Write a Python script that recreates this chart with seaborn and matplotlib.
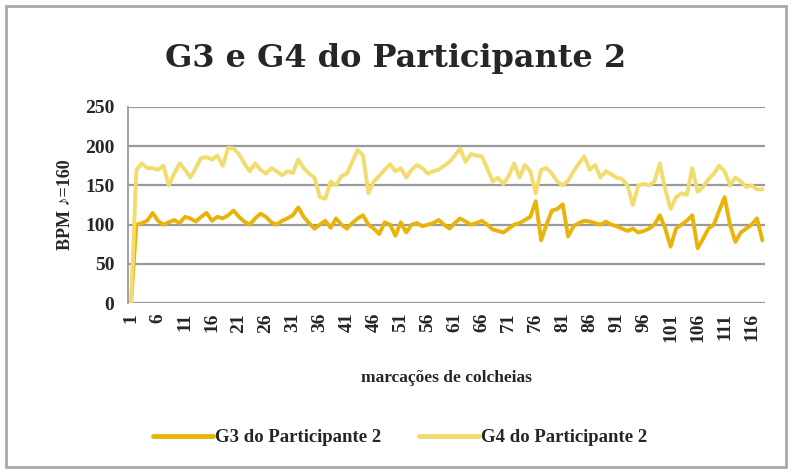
import numpy as np
import pandas as pd
import matplotlib.pyplot as plt
import seaborn as sns
from matplotlib.patches import Rectangle
from matplotlib.lines import Line2D

# valores (BPM por marcação de colcheia)
g3 = [0, 100, 102, 105, 115, 105, 100, 103, 106, 102,
      110, 108, 104, 110, 115, 105, 110, 108, 112, 118,
      110, 104, 100, 108, 114, 110, 103, 100, 105, 108,
      112, 122, 110, 102, 95, 100, 105, 96, 108, 100,
      95, 102, 108, 112, 100, 95, 88, 103, 100, 86,
      103, 90, 100, 102, 98, 100, 102, 106, 100, 95,
      102, 108, 104, 100, 102, 105, 100, 94, 92, 90,
      95, 100, 102, 106, 110, 130, 80, 100, 118, 120,
      126, 85, 98, 102, 105, 104, 102, 100, 104, 100,
      98, 95, 92, 95, 90, 92, 95, 100, 112, 95,
      72, 95, 100, 105, 112, 70, 82, 95, 100, 118,
      135, 100, 78, 90, 95, 100, 108, 80]
g4 = [0, 170, 178, 172, 172, 170, 175, 150, 165, 178,
      170, 160, 172, 185, 186, 183, 188, 175, 198, 197,
      190, 178, 168, 178, 170, 165, 172, 168, 163, 168,
      166, 183, 172, 165, 160, 135, 133, 155, 150, 162,
      165, 180, 195, 188, 140, 155, 162, 170, 177, 168,
      172, 160, 170, 176, 172, 165, 168, 170, 175, 180,
      188, 197, 180, 190, 188, 187, 172, 155, 160, 152,
      162, 178, 160, 176, 168, 140, 170, 172, 165, 155,
      150, 156, 168, 178, 187, 170, 176, 160, 168, 164,
      160, 158, 150, 125, 150, 152, 150, 155, 178, 145,
      120, 135, 140, 138, 172, 142, 148, 158, 165, 175,
      168, 150, 160, 155, 148, 150, 145, 145]
marcas = list(range(1, len(g3) + 1))
serie_names = ["G3 do Participante 2", "G4 do Participante 2"]
tick_labels = [str(m) for m in range(1, 117, 5)]

df = pd.DataFrame({
    "marca": marcas * 2,
    "bpm": g3 + g4,
    "serie": [serie_names[0]] * len(g3) + [serie_names[1]] * len(g4),
})

sns.set_style("white")
plt.rcParams["font.family"] = ["Liberation Serif", "DejaVu Serif"]

fig = plt.figure(figsize=(7.92, 4.73), dpi=100)
ax = fig.add_axes([0.162, 0.359, 0.804, 0.415])

# moldura cinza do gráfico
fig.patches.append(Rectangle((0.008, 0.012), 0.984, 0.976, transform=fig.transFigure,
                             fill=False, edgecolor="#a8a8a8", linewidth=2))

sns.lineplot(data=df, x="marca", y="bpm", hue="serie", ax=ax,
             palette=["#E8B40C", "#F2DC6E"], linewidth=2.8, legend=False)

ax.set_xlim(0.5, len(g3) + 0.5)
ax.set_ylim(0, 250)
ax.set_yticks(range(0, 251, 50))
ax.yaxis.grid(True, color="#9a9a9a", linewidth=1.6)
ax.set_axisbelow(True)
for s in ["top", "right", "bottom"]:
    ax.spines[s].set_visible(False)
ax.spines["left"].set_color("#9a9a9a")
ax.spines["left"].set_linewidth(1.3)

ax.set_xticks(range(1, 117, 5))
ax.set_xticklabels(tick_labels, rotation=90, fontsize=14, fontweight="bold")
ax.set_xticks(marcas, minor=True)
ax.tick_params(axis="x", which="both", length=4, color="#9a9a9a", width=0.8, pad=3)
ax.tick_params(axis="y", labelsize=14, length=4, color="#9a9a9a", pad=6)
for lab in ax.get_yticklabels():
    lab.set_fontweight("bold")

ax.set_xlabel("marcações de colcheias", fontsize=12.5, fontweight="bold", labelpad=20)
ax.set_ylabel("BPM ♪=160", fontsize=13, fontweight="bold", labelpad=8)

fig.text(0.50, 0.877, "G3 e G4 do Participante 2", ha="center", va="center",
         fontsize=23, fontweight="bold", family=["DejaVu Serif"])

handles = [Line2D([], [], color="#E8B40C", linewidth=3.5),
           Line2D([], [], color="#F2DC6E", linewidth=3.5)]
fig.legend(handles, serie_names, loc="center", bbox_to_anchor=(0.505, 0.075), ncol=2,
           frameon=False, handlelength=3.2, handletextpad=0.1,
           columnspacing=2.0, prop={"size": 13.5, "weight": "bold"})

fig.savefig("out.png", dpi=100)
